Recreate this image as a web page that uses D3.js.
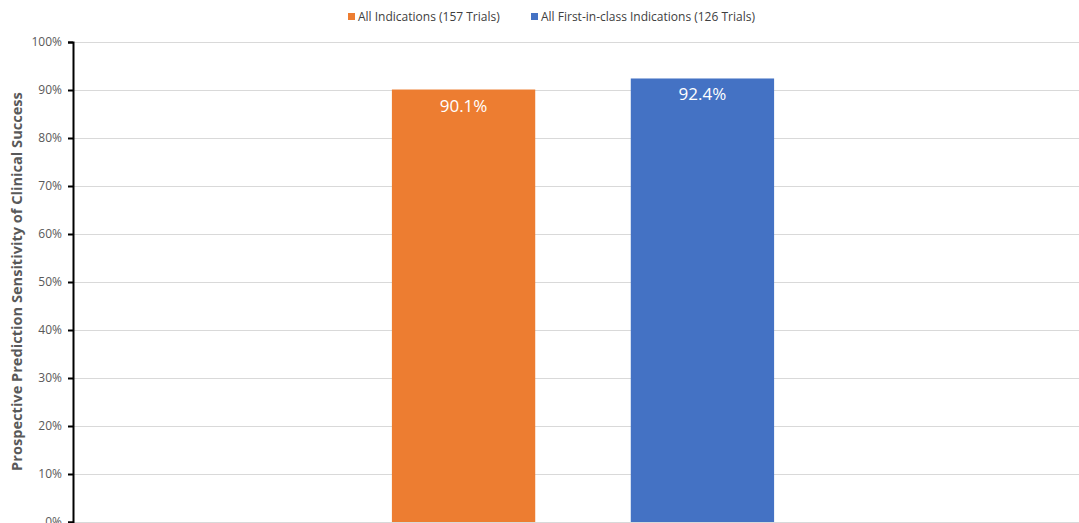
<!DOCTYPE html>
<html>
<head>
<meta charset="utf-8">
<script src="https://cdn.jsdelivr.net/npm/d3@7/dist/d3.min.js"></script>
<style>
  html, body { margin: 0; padding: 0; background: #fff; }
  svg { display: block; font-family: "Open Sans", "Liberation Sans", sans-serif; }
</style>
</head>
<body>
<svg id="chart" width="1079" height="523"></svg>
<script>
// Series shown as side-by-side bars
const seriesNames = ["All Indications (157 Trials)", "All First-in-class Indications (126 Trials)"];
const seriesValues = [90.1, 92.4];
const seriesColors = ["#ED7D31", "#4472C4"];
const yTicks = [0, 10, 20, 30, 40, 50, 60, 70, 80, 90, 100];
const yTitle = "Prospective Prediction Sensitivity of Clinical Success";

const svg = d3.select("#chart");
const margin = { left: 73, right: -14, top: 42, bottom: 1 };
const W = 1079, H = 523;

const y = d3.scaleLinear().domain([0, 100]).range([H - margin.bottom, margin.top]);
const x = d3.scaleBand()
  .domain(seriesNames)
  .range([margin.left, W - margin.right])
  .paddingInner(0.4)
  .paddingOuter(1.335);

// gridlines
svg.append("g")
  .selectAll("line")
  .data(yTicks)
  .join("line")
  .attr("x1", margin.left)
  .attr("x2", W)
  .attr("y1", d => Math.round(y(d)) + 0.5)
  .attr("y2", d => Math.round(y(d)) + 0.5)
  .attr("stroke", "#d9d9d9")
  .attr("stroke-width", 1);

// bars
svg.append("g")
  .selectAll("rect")
  .data(seriesNames)
  .join("rect")
  .attr("x", d => x(d))
  .attr("width", x.bandwidth())
  .attr("y", (d, i) => y(seriesValues[i]))
  .attr("height", (d, i) => y(0) - y(seriesValues[i]))
  .attr("fill", (d, i) => seriesColors[i]);

// value labels inside bar tops
svg.append("g")
  .selectAll("text")
  .data(seriesNames)
  .join("text")
  .attr("x", d => x(d) + x.bandwidth() / 2)
  .attr("y", (d, i) => y(seriesValues[i]) + 22)
  .attr("text-anchor", "middle")
  .attr("fill", "#fff")
  .attr("font-size", 17)
  .text((d, i) => seriesValues[i].toFixed(1) + "%");

// y axis
const yAxis = d3.axisLeft(y)
  .tickValues(yTicks)
  .tickFormat(d => d + "%")
  .tickSize(5)
  .tickPadding(6);
const ag = svg.append("g")
  .attr("transform", `translate(${margin.left},0)`)
  .call(yAxis);
ag.select(".domain").attr("stroke", "#000").attr("stroke-width", 2);
ag.selectAll(".tick line").attr("stroke", "#000").attr("stroke-width", 2);
ag.selectAll(".tick text")
  .attr("fill", "#595959")
  .attr("font-size", 12)
  .attr("font-family", "'Open Sans', 'Liberation Sans', sans-serif");

// y axis title
svg.append("text")
  .attr("transform", `translate(22,${(margin.top + H) / 2 - 1}) rotate(-90)`)
  .attr("text-anchor", "middle")
  .attr("fill", "#595959")
  .attr("font-size", 14.6)
  .attr("font-weight", "bold")
  .text(yTitle);

// legend
const legendX = [348, 531];
const lg = svg.append("g")
  .selectAll("g")
  .data(seriesNames)
  .join("g")
  .attr("transform", (d, i) => `translate(${legendX[i]},12)`);
lg.append("rect")
  .attr("width", 7).attr("height", 7)
  .attr("y", 1)
  .attr("fill", (d, i) => seriesColors[i]);
lg.append("text")
  .attr("x", 10)
  .attr("y", 9)
  .attr("fill", "#404040")
  .attr("font-size", 12)
  .text(d => d);
</script>
</body>
</html>
